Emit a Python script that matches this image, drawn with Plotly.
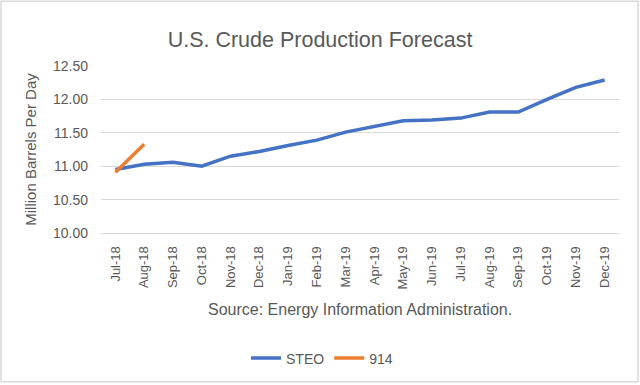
import plotly.graph_objects as go

months = ["Jul-18", "Aug-18", "Sep-18", "Oct-18", "Nov-18", "Dec-18", "Jan-19", "Feb-19", "Mar-19",
          "Apr-19", "May-19", "Jun-19", "Jul-19", "Aug-19", "Sep-19", "Oct-19", "Nov-19", "Dec-19"]
steo = [10.95, 11.03, 11.06, 11.00, 11.15, 11.22, 11.31, 11.39, 11.51,
        11.60, 11.68, 11.69, 11.72, 11.81, 11.81, 12.00, 12.18, 12.29]
months_914 = ["Jul-18", "Aug-18"]
eia914 = [10.91, 11.33]
yticks = [10.0, 10.5, 11.0, 11.5, 12.0, 12.5]

FONT = "Liberation Sans"
GRAY = "#595959"

fig = go.Figure()
fig.add_trace(go.Scatter(x=months, y=steo, mode="lines", name="STEO",
                         line=dict(color="#4472C4", width=3.5)))
fig.add_trace(go.Scatter(x=months_914, y=eia914, mode="lines", name="914",
                         line=dict(color="#ED7D31", width=3.5)))

W, H = 640, 385
L, R, T, B = 101, 21, 66, 151.3
pw, ph = W - L - R, H - T - B

def px(x):
    return (x - L) / pw

def py(y):
    return (H - B - y) / ph

fig.update_layout(
    width=W, height=H,
    margin=dict(l=L, r=R, t=T, b=B),
    paper_bgcolor="white", plot_bgcolor="white",
    font=dict(family=FONT, color=GRAY, size=13),
    title=dict(text="U.S. Crude Production Forecast", x=0.5, xanchor="center",
               y=1 - 39 / H, yanchor="middle",
               font=dict(size=21.5, color=GRAY, family=FONT)),
    xaxis=dict(type="category", tickangle=-90, showgrid=False,
               range=[-0.5, len(months) - 0.5],
               showline=True, linecolor="#D9D9D9", linewidth=1,
               ticks="", tickfont=dict(size=13, color=GRAY), fixedrange=True,
               ticklabelstandoff=7),
    yaxis=dict(range=[10, 12.5], tickvals=yticks, tickformat=".2f",
               showgrid=True, gridcolor="#D9D9D9", gridwidth=1, zeroline=False,
               showline=False, ticks="", tickfont=dict(size=14, color=GRAY),
               ticklabelstandoff=12, fixedrange=True,
               title=dict(text="Million Barrels Per Day", font=dict(size=15, color=GRAY),
                          standoff=12)),
    showlegend=True,
    legend=dict(orientation="h", x=px(322), xanchor="center", y=py(358), yanchor="middle",
                font=dict(size=14, color=GRAY), bgcolor="rgba(0,0,0,0)"),
    annotations=[dict(text="Source: Energy Information Administration.", xref="paper", yref="paper",
                      x=px(360), y=py(311), xanchor="center", yanchor="middle", showarrow=False,
                      font=dict(size=16, color=GRAY, family=FONT))],
    shapes=[dict(type="rect", xref="paper", yref="paper",
                 x0=px(1), x1=px(638), y0=py(1), y1=py(383),
                 line=dict(color="#D9D9D9", width=1.5), fillcolor="rgba(0,0,0,0)", layer="below")],
)

fig.write_html("out.html", config={"displayModeBar": False},
               post_script="document.body.style.margin='0';document.body.style.overflow='hidden';")
